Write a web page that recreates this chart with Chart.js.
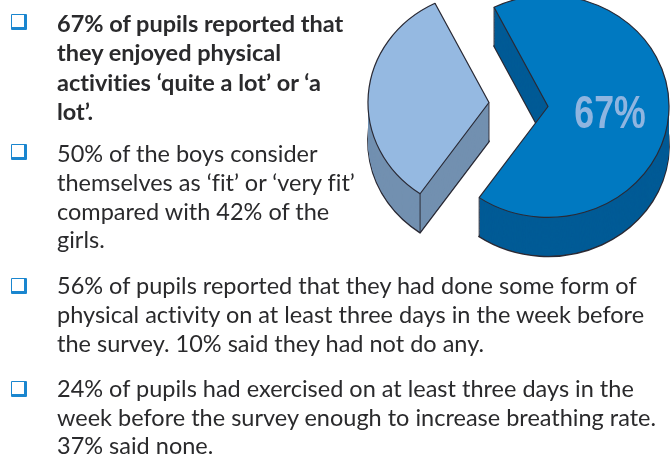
<!DOCTYPE html>
<html>
<head>
<meta charset="utf-8">
<script src="https://cdn.jsdelivr.net/npm/chart.js@4"></script>
<style>
  html, body { margin: 0; padding: 0; background: #fff; }
  #page { position: relative; width: 672px; height: 456px; overflow: hidden; }
  #pie { position: absolute; left: 0; top: 0; }
  .line {
    position: absolute; left: 57px; white-space: nowrap; color: #2a2a2c;
    font-family: Lato, sans-serif; font-size: 23.5px; line-height: 29px;
    font-variant-ligatures: none;
  }
  .bold { font-weight: 700; }
  .box {
    position: absolute; left: 11px; width: 12px; height: 12px; background: #fff;
    border: 1.5px solid #1a86cf; border-right-width: 3px; border-bottom-width: 3px; border-radius: 1px;
  }
</style>
</head>
<body>
<div id="page">
  <canvas id="pie" width="672" height="456"></canvas>
</div>
<script>
const sliceLabels = ["67%", "33%"];
const sliceValues = [67, 33];
const topColors = ["#0079c1", "#95b9e1"];
const wallColors = ["#005b96", "#7290b0"];

// [text, top, bold]
const textLines = [
  ["67% of pupils reported that", 9, true],
  ["they enjoyed physical", 38, true],
  ["activities ‘quite a lot’ or ‘a", 68, true],
  ["lot’.", 97, true],
  ["50% of the boys consider", 139, false],
  ["themselves as ‘fit’ or ‘very fit’", 168, false],
  ["compared with 42% of the", 197, false],
  ["girls.", 225, false],
  ["56% of pupils reported that they had done some form of", 271, false],
  ["physical activity on at least three days in the week before", 300, false],
  ["the survey. 10% said they had not do any.", 329, false],
  ["24% of pupils had exercised on at least three days in the", 374, false],
  ["week before the survey enough to increase breathing rate.", 403, false],
  ["37% said none.", 431, false],
];
const bulletTops = [14, 144, 278, 381];

const SQUASH = 0.917;
const DEPTH = 39;
const EXPLODE = 29.6;
const LINE = "#2a2a35";

function slicePath(ctx, p) {
  ctx.beginPath();
  ctx.moveTo(p.x, p.y);
  ctx.arc(p.x, p.y, p.outerRadius, p.startAngle, p.endAngle);
  ctx.closePath();
}

function drawWall(ctx, p, color) {
  const depth = DEPTH / SQUASH;

  // bottom outline first, the stacked fill then hides the inner half of it
  ctx.save();
  ctx.translate(0, depth);
  slicePath(ctx, p);
  ctx.fillStyle = color;
  ctx.fill();
  ctx.strokeStyle = LINE;
  ctx.lineWidth = 1.7;
  ctx.stroke();
  ctx.restore();

  ctx.fillStyle = color;
  for (let k = depth - 1; k >= 0; k--) {
    ctx.save();
    ctx.translate(0, k);
    slicePath(ctx, p);
    ctx.fill();
    ctx.restore();
  }

  // upright edges, the top face covers the ones that can't be seen
  ctx.strokeStyle = LINE;
  ctx.lineWidth = 1;
  [p.startAngle, p.endAngle].forEach((a) => {
    const ex = p.x + Math.cos(a) * p.outerRadius;
    const ey = p.y + Math.sin(a) * p.outerRadius;
    ctx.beginPath();
    ctx.moveTo(ex, ey);
    ctx.lineTo(ex, ey + depth);
    ctx.stroke();
  });
  ctx.beginPath();
  ctx.moveTo(p.x, p.y);
  ctx.lineTo(p.x, p.y + depth);
  ctx.stroke();
}

const explodedPie = {
  id: "explodedPie",
  beforeDatasetsDraw(chart) {
    const ctx = chart.ctx;
    const arcs = chart.getDatasetMeta(0).data;

    arcs.forEach((arc, i) => {
      const p = arc.getProps(["x", "y", "startAngle", "endAngle", "outerRadius"]);
      const mid = (p.startAngle + p.endAngle) / 2;

      ctx.save();
      ctx.translate(p.x, p.y);
      ctx.scale(1, SQUASH);
      ctx.translate(-p.x + Math.cos(mid) * EXPLODE, -p.y + Math.sin(mid) * EXPLODE);
      drawWall(ctx, p, wallColors[i]);
      arc.draw(ctx);
      ctx.restore();
    });

    // only the big slice carries a label, squeezed since there's no narrow font
    const big = arcs[0].getProps(["x", "y", "startAngle", "endAngle"]);
    const bigMid = (big.startAngle + big.endAngle) / 2;
    ctx.save();
    ctx.translate(big.x + Math.cos(bigMid) * EXPLODE + 62, big.y + 23);
    ctx.scale(0.76, 1);
    ctx.font = "bold 47px 'Liberation Sans', sans-serif";
    ctx.fillStyle = "#8fb5e0";
    ctx.textAlign = "center";
    ctx.textBaseline = "alphabetic";
    ctx.fillText(sliceLabels[0], 0, 0);
    ctx.restore();

    return false;
  },
};

const page = document.getElementById("page");
textLines.forEach(([text, top, bold]) => {
  const el = document.createElement("div");
  el.className = bold ? "line bold" : "line";
  el.style.top = top + "px";
  el.textContent = text;
  page.appendChild(el);
});
bulletTops.forEach((top) => {
  const el = document.createElement("div");
  el.className = "box";
  el.style.top = top + "px";
  page.appendChild(el);
});

new Chart(document.getElementById("pie"), {
  type: "pie",
  data: {
    labels: sliceLabels,
    datasets: [
      {
        data: sliceValues,
        backgroundColor: topColors,
        borderColor: LINE,
        borderWidth: 1.2,
      },
    ],
  },
  options: {
    responsive: false,
    animation: false,
    rotation: -26.5,
    radius: 121,
    layout: { padding: { left: 365, right: 0, top: 0, bottom: 247 } },
    plugins: { legend: { display: false }, tooltip: { enabled: false } },
  },
  plugins: [explodedPie],
});
</script>
</body>
</html>
